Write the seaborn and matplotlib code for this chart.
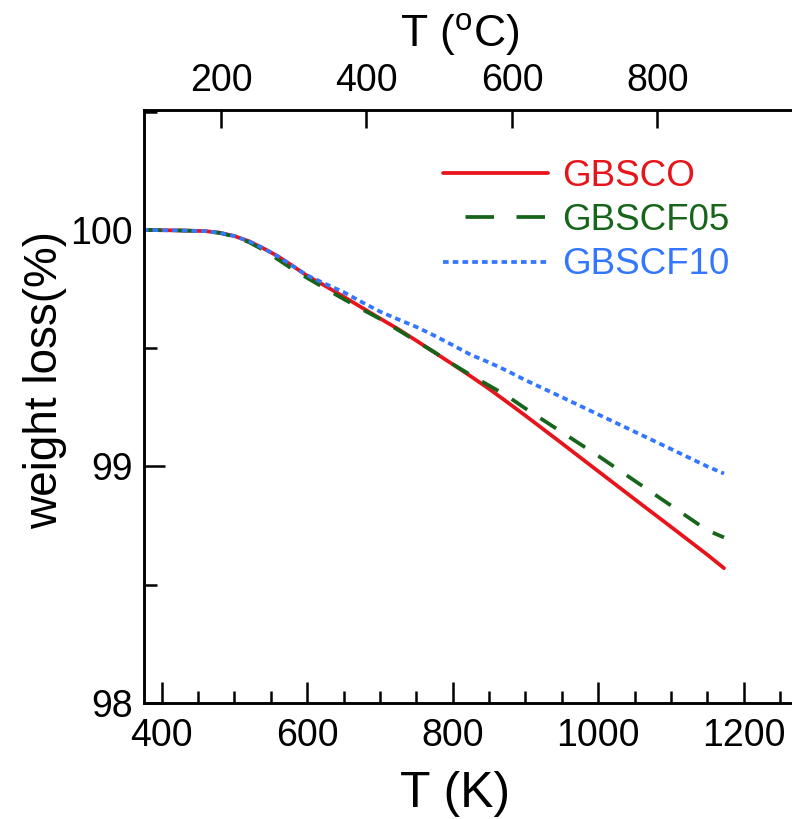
import numpy as np
import pandas as pd
import matplotlib
matplotlib.use("Agg")
import matplotlib.pyplot as plt
from matplotlib.lines import Line2D
from matplotlib.ticker import MultipleLocator
import seaborn as sns

# ---- data ----
T_K = [374, 420, 460, 480, 500, 520, 540, 560, 580, 600, 625, 650, 675, 700, 725, 750, 775,
       800, 825, 850, 875, 900, 950, 1000, 1050, 1100, 1150, 1173]
GBSCO = [100.0, 99.998, 99.995, 99.988, 99.974, 99.952, 99.922, 99.888, 99.848, 99.806, 99.763,
         99.718, 99.672, 99.626, 99.581, 99.532, 99.482, 99.432, 99.381, 99.328, 99.272, 99.215,
         99.098, 98.98, 98.862, 98.745, 98.627, 98.57]
GBSCF05 = [100.0, 99.998, 99.995, 99.987, 99.972, 99.948, 99.915, 99.875, 99.834, 99.797, 99.752,
           99.708, 99.665, 99.624, 99.577, 99.53, 99.483, 99.433, 99.386, 99.342, 99.298, 99.245,
           99.145, 99.045, 98.94, 98.835, 98.73, 98.70]
GBSCF10 = [100.0, 99.998, 99.995, 99.988, 99.974, 99.952, 99.922, 99.888, 99.848, 99.808, 99.772,
           99.737, 99.695, 99.655, 99.622, 99.59, 99.553, 99.513, 99.472, 99.44, 99.404, 99.365,
           99.293, 99.22, 99.147, 99.074, 99.0, 98.97]
series_names = ["GBSCO", "GBSCF05", "GBSCF10"]
colors = ["#E8141B", "#17651A", "#3377FF"]
x_ticks_K = [400, 600, 800, 1000, 1200]
x_ticks_C = [200, 400, 600, 800]
y_ticks = [98, 99, 100]

df = pd.DataFrame({
    "T": T_K * 3,
    "w": GBSCO + GBSCF05 + GBSCF10,
    "sample": sum([[n] * len(T_K) for n in series_names], []),
})

sns.set_theme(style="white")
plt.rcParams["font.family"] = ["Liberation Sans", "DejaVu Sans"]
plt.rcParams["mathtext.fontset"] = "custom"
plt.rcParams["mathtext.rm"] = "Liberation Sans"
for k in ["text.color", "axes.labelcolor", "xtick.color", "ytick.color", "axes.edgecolor"]:
    plt.rcParams[k] = "black"

W, H = 792, 819
fig = plt.figure(figsize=(W / 100, H / 100), dpi=100)
left, right_px, top, bottom = 143.5, 816.4, 110, 703
aw, ah = right_px - left, bottom - top
ax = fig.add_axes([left / W, 1 - bottom / H, aw / W, ah / H])

lw = 2.7
styles = ["-", (0, (5.0, 4.2)), (0, (1.5, 1.1))]
for name, c, ls in zip(series_names, colors, styles):
    sns.lineplot(data=df[df["sample"] == name], x="T", y="w", ax=ax, color=c,
                 linewidth=lw, linestyle=ls, legend=False)

ax.set_xlim(375, 1300)
ax.set_ylim(98, 100.507)
ax.set_xticks(x_ticks_K)
ax.xaxis.set_minor_locator(MultipleLocator(50))
ax.set_yticks(y_ticks)
ax.yaxis.set_minor_locator(MultipleLocator(0.5))

for s in ["left", "bottom", "top", "right"]:
    ax.spines[s].set_linewidth(1.8)
    ax.spines[s].set_color("black")
ax.tick_params(axis="both", which="major", direction="in", length=15, width=1.8,
               labelsize=27, colors="black", pad=8)
ax.tick_params(axis="x", which="major", pad=11)
ax.tick_params(axis="both", which="minor", direction="in", length=9, width=1.8)
ax.tick_params(axis="x", which="both", top=False, bottom=True)
ax.tick_params(axis="y", which="both", left=True, right=False)

ax.set_xlabel("T (K)", fontsize=36)
ax.xaxis.set_label_coords((455 - left) / aw, -(794 - bottom) / ah)
ax.xaxis.label.set_va("center")
ax.set_ylabel("weight loss(%)", fontsize=33)
ax.yaxis.set_label_coords(-(left - 45) / aw, (bottom - 380) / ah)
ax.yaxis.label.set_va("center")

# top axis in Celsius
ax2 = ax.twiny()
ax2.set_xlim(375 - 281.5, 1300 - 281.5)
ax2.set_xticks(x_ticks_C)
ax2.tick_params(axis="x", which="major", direction="in", length=13, width=1.8,
                labelsize=27, colors="black", pad=8)
ax2.set_xlabel(r"T ($\mathregular{^{o}}$C)", fontsize=32)
ax2.xaxis.set_label_coords((460 - left) / aw, 1 + (top - 35) / ah)
ax2.xaxis.label.set_va("center")
for s in ax2.spines.values():
    s.set_linewidth(1.8)
    s.set_color("black")
ax2.grid(False)
ax.grid(False)

# legend
handles = [
    Line2D([], [], color=colors[0], lw=lw, linestyle="-"),
    Line2D([], [], color=colors[1], lw=lw, linestyle=(7.6, (7.6, 6.0))),
    Line2D([], [], color=colors[2], lw=lw, linestyle=(0, (1.5, 1.1))),
]
leg = ax.legend(handles, series_names, loc="upper left",
                bbox_to_anchor=((443 - left) / aw, 1 - (159 - top) / ah),
                frameon=False, fontsize=26.5, handlelength=2.85, handletextpad=0.38,
                labelspacing=0.25, borderaxespad=0, borderpad=0)
for t, c in zip(leg.get_texts(), colors):
    t.set_color(c)

fig.savefig("out.png", dpi=100)
